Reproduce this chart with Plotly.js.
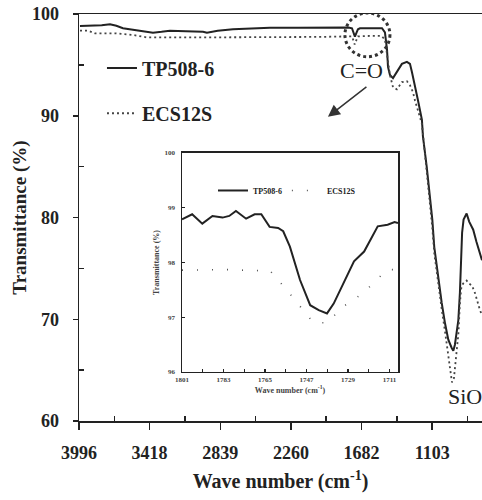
<!DOCTYPE html>
<html>
<head>
<meta charset="utf-8">
<script src="https://cdn.plot.ly/plotly-3.0.1.min.js"></script>
<style>html,body{margin:0;padding:0;background:#fff;}#chart{width:482px;height:500px;}</style>
</head>
<body>
<div id="chart"></div>
<script>
// ---- Main spectrum data (wave number cm^-1, transmittance %) ----
var tpWave = [3988,3900,3810,3742,3690,3636,3520,3390,3320,3251,3120,2980,2948,2860,2735,2600,2432,2200,1883,1790,1760,1745,1736,1722,1711,1695,1600,1514,1490,1473,1465,1449,1424,1392,1351,1310,1285,1269,1244,1220,1187,1179,1148,1121,1102,1086,1066,1053,1025,998,971,944,930,917,889,876,866,858,846,821,800,767,740,712,695];
var tpTrans = [98.82,98.85,98.9,99.0,98.85,98.6,98.4,98.16,98.25,98.36,98.3,98.26,98.16,98.35,98.5,98.6,98.65,98.65,98.66,98.68,98.6,98.1,97.77,98.2,98.5,98.6,98.62,98.6,98.2,96.5,94.8,94.0,93.7,94.3,95.1,95.3,95.1,94.3,93.0,91.55,89.6,88.0,85.0,82.05,79.8,77.1,75.2,73.9,71.6,69.6,68.0,67.2,66.9,67.5,69.9,72.6,75.5,78.5,79.8,80.4,79.6,78.8,77.6,76.3,75.8];

var ecWave = [3988,3920,3865,3700,3560,3439,3000,2500,2000,1800,1760,1745,1738,1725,1711,1600,1520,1490,1473,1449,1424,1392,1351,1310,1285,1260,1244,1220,1187,1148,1121,1102,1086,1066,1053,1025,998,975,955,941,925,912,900,889,876,866,850,821,800,777,753,730,712,695];
var ecTrans = [98.36,98.36,98.1,98.1,97.95,97.7,97.7,97.7,97.75,97.8,97.8,97.3,97.0,97.4,97.8,97.85,97.85,97.5,96.0,94.0,92.8,92.6,93.3,93.4,93.0,92.3,91.5,90.5,89.2,84.5,81.5,79.0,76.5,74.5,73.6,71.0,68.8,66.8,65.0,63.8,64.2,66.0,67.0,68.5,71.5,73.0,73.5,73.8,73.5,73.3,72.6,71.6,70.9,70.4];

// ---- Inset (C=O region) data ----
var inTpWave = [1801,1796.6,1792.2,1787.8,1783.4,1780.5,1777.6,1773.2,1769.5,1766.6,1763.0,1759.3,1757.1,1754.2,1749.8,1745.4,1741.7,1738.1,1735.2,1730.8,1726.4,1722.0,1719.1,1716.1,1711.8,1708.8,1707.3];
var inTpTrans = [98.79,98.88,98.71,98.85,98.82,98.85,98.94,98.80,98.88,98.88,98.65,98.63,98.57,98.29,97.68,97.22,97.13,97.07,97.25,97.62,98.02,98.20,98.42,98.66,98.69,98.74,98.72];
var inEcWave = [1801,1790,1780,1770,1763,1755,1748,1744,1738,1731,1727,1721,1712,1707.3];
var inEcTrans = [97.86,97.86,97.87,97.85,97.86,97.47,97.1,96.9,96.9,97.2,97.3,97.5,97.87,97.87];

// ---- Tick labels ----
var mainTickVals = [3996,3418,2839,2260,1682,1103];
var mainTickText = ['3996','3418','2839','2260','1682','1103'];
var mainMinorVals = [3707,3128.5,2549.5,1971,1392.5,813.5];
var yTickVals = [60,70,80,90,100];
var yMinorVals = [65,75,85,95];
var inTickVals = [1801,1783,1765,1747,1729,1711];
var inTickText = ['1801','1783','1765','1747','1729','1711'];
var inMinorVals = [1792,1774,1756,1738,1720];
var inYTickVals = [96,97,98,99,100];

var ink = '#222';
var serif = 'Liberation Serif, Times New Roman, serif';

var traces = [
  {x: tpWave, y: tpTrans, type: 'scatter', mode: 'lines', name: 'TP508-6',
   line: {color: ink, width: 2}, legend: 'legend'},
  {x: ecWave, y: ecTrans, type: 'scatter', mode: 'lines', name: 'ECS12S',
   line: {color: '#444', width: 1.8, dash: '2px,3px'}, legend: 'legend3'},
  {x: inTpWave, y: inTpTrans, type: 'scatter', mode: 'lines', name: 'TP508-6',
   xaxis: 'x2', yaxis: 'y2', line: {color: ink, width: 2}, legend: 'legend2'},
  {x: inEcWave, y: inEcTrans, type: 'scatter', mode: 'lines', name: 'ECS12S',
   xaxis: 'x2', yaxis: 'y2', line: {color: '#555', width: 1.6, dash: '1px,14px'}, legend: 'legend2'}
];

var mainLegendFont = {size: 20, weight: 'bold', family: serif, color: ink};

var layout = {
  width: 482, height: 500,
  margin: {l: 79, r: 0, t: 14, b: 79},
  paper_bgcolor: '#fff', plot_bgcolor: '#fff',
  font: {family: serif, color: ink},
  showlegend: true,
  legend: {x: 0.057, y: 0.915, xanchor: 'left', yanchor: 'top', bgcolor: 'rgba(0,0,0,0)', font: mainLegendFont},
  legend3: {x: 0.057, y: 0.804, xanchor: 'left', yanchor: 'top', bgcolor: 'rgba(0,0,0,0)', font: mainLegendFont},
  legend2: {x: 0.3325, y: 0.602, xanchor: 'left', yanchor: 'top', orientation: 'h',
            bgcolor: 'rgba(0,0,0,0)', font: {size: 8, weight: 'bold', family: serif, color: ink}},
  xaxis: {range: [3996, 695], domain: [0, 1], tickmode: 'array', tickvals: mainTickVals, ticktext: mainTickText,
          ticks: 'outside', ticklen: 7, tickwidth: 1.5, tickcolor: ink, showline: true, linewidth: 1.5,
          linecolor: ink, mirror: true, showgrid: false, zeroline: false, ticklabelstandoff: 8,
          tickfont: {size: 18, weight: 'bold', family: serif, color: ink},
          minor: {tickmode: 'array', tickvals: mainMinorVals, ticks: 'inside', ticklen: 5, tickwidth: 1.5, tickcolor: ink},
          title: {text: 'Wave number (cm<sup>-1</sup>)', standoff: 12,
                  font: {size: 20, weight: 'bold', family: serif, color: ink}}},
  yaxis: {range: [60, 100], domain: [0, 1], tickmode: 'array', tickvals: yTickVals,
          ticks: 'outside', ticklen: 5, tickwidth: 1.5, tickcolor: ink, showline: true, linewidth: 1.5,
          linecolor: ink, showgrid: false, zeroline: false, ticklabelstandoff: 10,
          tickfont: {size: 18, weight: 'bold', family: serif, color: ink},
          minor: {tickmode: 'array', tickvals: yMinorVals, ticks: 'inside', ticklen: 5, tickwidth: 1.5, tickcolor: ink},
          title: {text: 'Transmittance (%)', standoff: 0,
                  font: {size: 19, weight: 'bold', family: serif, color: ink}}},
  xaxis2: {range: [1801, 1707.3], domain: [0.2556, 0.7916], anchor: 'y2', tickmode: 'array',
           tickvals: inTickVals, ticktext: inTickText, ticks: 'inside', ticklen: 3, tickwidth: 1.2, tickcolor: ink,
           showline: true, linewidth: 1.5, linecolor: ink, mirror: true, showgrid: false, zeroline: false,
           tickfont: {size: 7, weight: 'bold', family: serif, color: '#444'},
           minor: {tickmode: 'array', tickvals: inMinorVals, ticks: 'inside', ticklen: 3, tickwidth: 1.2, tickcolor: ink},
           title: {text: 'Wave number (cm<sup>-1</sup>)', standoff: 4,
                   font: {size: 8, weight: 'bold', family: serif, color: '#444'}}},
  yaxis2: {range: [96, 100], domain: [0.1204, 0.6585], anchor: 'x2', tickmode: 'array', tickvals: inYTickVals,
           ticks: 'inside', ticklen: 3, tickwidth: 1.2, tickcolor: ink, showline: true, linewidth: 1.5,
           linecolor: ink, mirror: true, showgrid: false, zeroline: false, ticklabelstandoff: 4,
           tickfont: {size: 7, weight: 'bold', family: serif, color: '#444'},
           title: {text: 'Transmittance (%)', standoff: 4,
                   font: {size: 8, weight: 'bold', family: serif, color: '#444'}}},
  shapes: [
    {type: 'circle', xref: 'x', yref: 'y', x0: 1818, x1: 1449, y0: 95.8, y1: 100.1,
     line: {color: '#333', width: 3, dash: 'dot'}}
  ],
  annotations: [
    {x: 1678, y: 94.4, xref: 'x', yref: 'y', text: 'C=O', showarrow: false,
     font: {size: 22, family: serif, color: ink}},
    {x: 1957, y: 89.9, xref: 'x', yref: 'y', text: '', showarrow: true, ax: 40, ay: -31,
     arrowhead: 2, arrowsize: 1.6, arrowwidth: 1.5, arrowcolor: '#333'},
    {x: 834, y: 62.4, xref: 'x', yref: 'y', text: 'SiO', showarrow: false,
     font: {size: 22, family: serif, color: ink}}
  ]
};

Plotly.newPlot('chart', traces, layout, {displayModeBar: false, staticPlot: true});
</script>
</body>
</html>
